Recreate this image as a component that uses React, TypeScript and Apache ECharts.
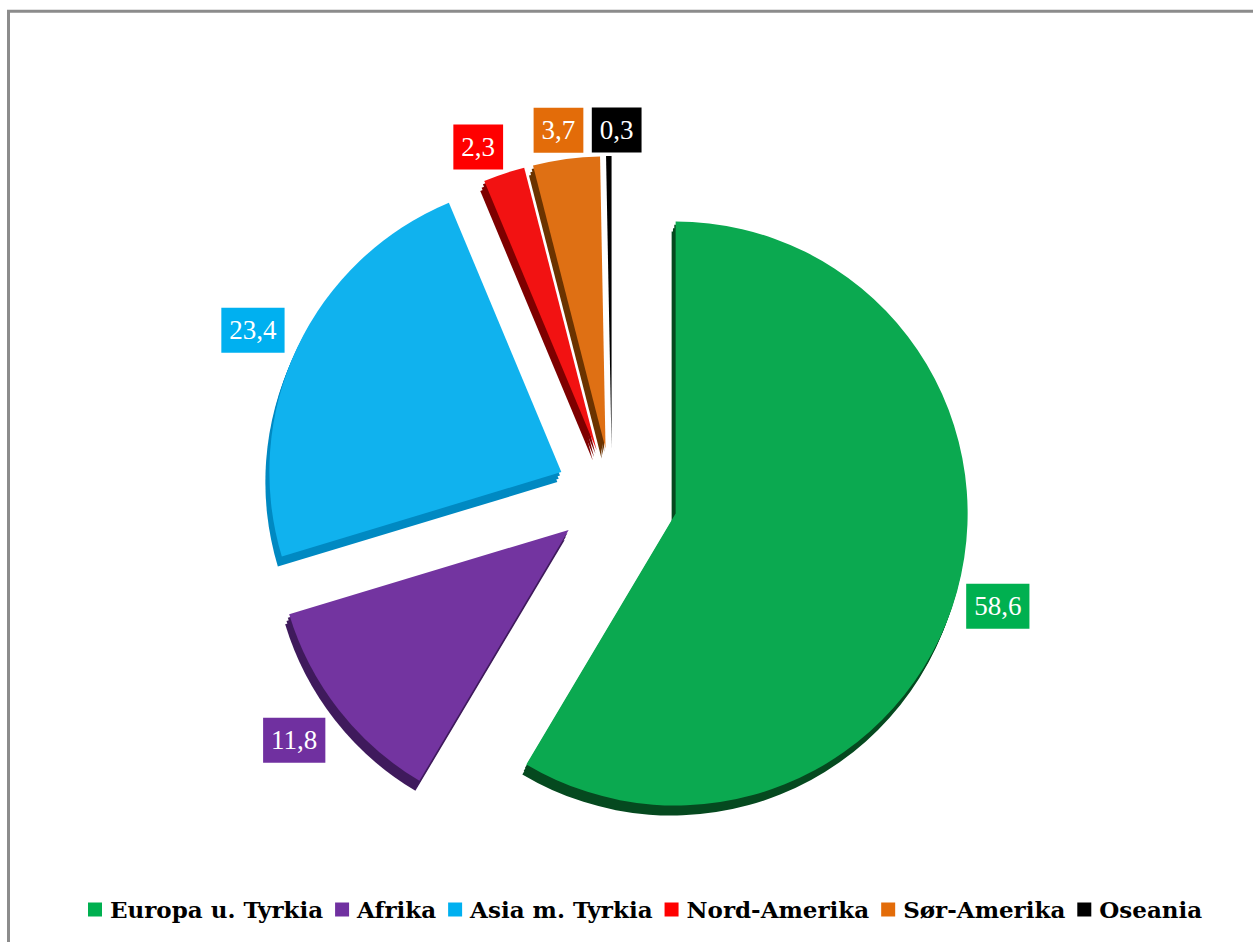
import React, { useEffect, useRef } from "react";
import * as echarts from "echarts";

const categories = ["Europa u. Tyrkia", "Afrika", "Asia m. Tyrkia", "Nord-Amerika", "Sør-Amerika", "Oseania"];
const values = [58.6, 11.8, 23.4, 2.3, 3.7, 0.3];

// styling / layout (kept separate from data)
const faceColors = ["#0BA950", "#7334A0", "#10B2EE", "#F21212", "#DF7014", "#000000"];
const sideColors = ["#05491F", "#3F1A5C", "#0089C2", "#7E0000", "#6B3300", null];
const labelColors = ["#00B050", "#7030A0", "#00B0F0", "#FF0000", "#E36C09", "#000000"];
const explode = [66, 55, 56, 48, 48, 48];
const labelLen = [28, 22, 24, 28, 29, 26];
const labelNudge = [[-18, 8], [4, 17], [9, -7], [8, 0], [21, 0], [33, 0]];
const baseCenter = [612, 496];
const radius = 292;
const depth = [-4, 10];

export default function App() {
  const ref = useRef<HTMLDivElement>(null);
  useEffect(() => {
    if (!ref.current) return;
    const chart = echarts.init(ref.current, null, { renderer: "svg" });
    const total = values.reduce((a, b) => a + b, 0);
    const series: any[] = [];
    let cum = 0;
    const slices = values.map((v, i) => {
      const startDeg = (cum / total) * 360;
      cum += v;
      const endDeg = (cum / total) * 360;
      const mid = ((startDeg + endDeg) / 2) * Math.PI / 180;
      const cx = baseCenter[0] + Math.sin(mid) * explode[i];
      const cy = baseCenter[1] - Math.cos(mid) * explode[i];
      return { v, i, startDeg, cx, cy };
    });
    // side (depth) faces
    const steps = [1 / 3, 2 / 3, 1];
    slices.forEach((s) => {
      if (!sideColors[s.i]) return;
      steps.forEach((t) => {
        series.push({
          type: "pie",
          silent: true,
          z: 1,
          center: [s.cx + depth[0] * t, s.cy + depth[1] * t],
          radius: radius,
          startAngle: 90 - s.startDeg,
          clockwise: true,
          avoidLabelOverlap: false,
          label: { show: false },
          labelLine: { show: false },
          emphasis: { disabled: true },
          data: [
            { value: s.v, name: categories[s.i] + " side", itemStyle: { color: sideColors[s.i] } },
            { value: total - s.v, name: "rest", itemStyle: { color: "rgba(0,0,0,0)" } },
          ],
        });
      });
    });
    // top faces with labels
    slices.forEach((s) => {
      series.push({
        type: "pie",
        silent: true,
        z: 2,
        center: [s.cx, s.cy],
        radius: radius,
        startAngle: 90 - s.startDeg,
        clockwise: true,
        avoidLabelOverlap: false,
        emphasis: { disabled: true },
        label: {
          show: true,
          position: "outside",
          distanceToLabelLine: 0,
          formatter: (p: any) => Number(p.value).toFixed(1).replace(".", ","),
          color: "#ffffff",
          backgroundColor: labelColors[s.i],
          padding: [9, 8],
          fontFamily: "Liberation Serif",
          fontSize: 27,
        },
        labelLine: { show: false, length: labelLen[s.i], length2: 0 },
        labelLayout: { dx: labelNudge[s.i][0], dy: labelNudge[s.i][1] },
        data: [
          { value: s.v, name: categories[s.i], itemStyle: { color: faceColors[s.i] } },
          {
            value: total - s.v,
            name: "rest",
            itemStyle: { color: "rgba(0,0,0,0)" },
            label: { show: false },
          },
        ],
      });
    });

    chart.setOption({
      animation: false,
      backgroundColor: "#ffffff",
      graphic: [
        {
          type: "rect",
          silent: true,
          z: -1,
          shape: { x: 8.5, y: 11.3, width: 1400, height: 1100 },
          style: { fill: "none", stroke: "#8c8c8c", lineWidth: 3 },
        },
      ],
      legend: {
        left: 83,
        top: 893,
        icon: "rect",
        itemWidth: 14,
        itemHeight: 14,
        itemGap: 12,
        selectedMode: false,
        textStyle: {
          fontFamily: "DejaVu Serif",
          fontWeight: "bold",
          fontSize: 23,
          color: "#000000",
          padding: [0, 0, 0, 3],
        },
        data: categories.map((c, i) => ({ name: c, itemStyle: { color: labelColors[i] } })),
      },
      series,
    });
    return () => chart.dispose();
  }, []);
  return (
    <div
      ref={ref}
      style={{ position: "absolute", left: 0, top: 0, width: 1253, height: 942, background: "#fff" }}
    />
  );
}
